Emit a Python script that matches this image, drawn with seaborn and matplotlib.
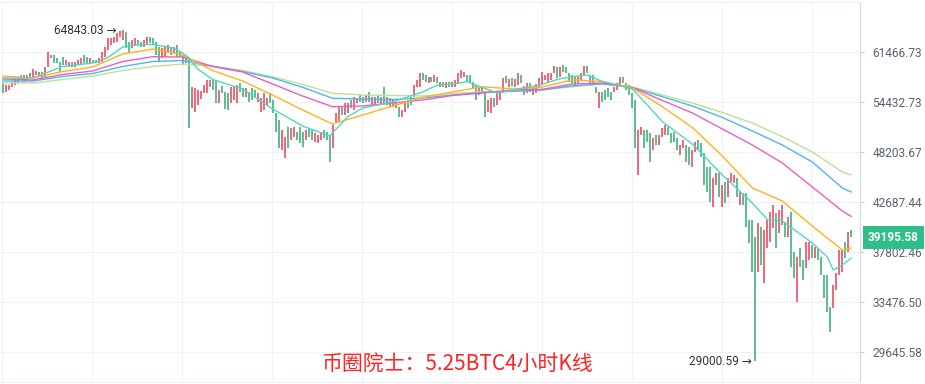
import numpy as np
import pandas as pd
import matplotlib
matplotlib.use("Agg")
import matplotlib.pyplot as plt
import matplotlib.transforms as mtransforms
from matplotlib.ticker import NullLocator
import seaborn as sns

# ---------------- data (4h candles) ----------------
opens = [
    57047, 55814, 56085, 56496, 56770, 57886, 58167, 57185, 58167, 57745,
    57886, 58167, 57886, 58593, 57886, 59309, 60621, 61065, 60621, 60034,
    60769, 59598, 59309, 60034, 59309, 59598, 59598, 61065, 60769, 59888,
    60326, 60326, 59888, 60034, 60769, 61811, 62567, 62873, 63025, 63797,
    63332, 64576, 63025, 62113, 62567, 63332, 63025, 62264, 62567, 63797,
    63643, 63025, 62264, 60621, 60769, 61363, 62264, 61363, 62567, 61512,
    61065, 59888, 60621, 53685, 53165, 54077, 54871, 55678, 55678, 56496,
    57605, 57464, 54341, 56633, 55814, 55678, 54341, 54738, 54341, 57047,
    56359, 55139, 55814, 56359, 56085, 54473, 53165, 53424, 54077, 55678,
    54738, 53036, 52141, 48474, 47541, 51261, 49667, 50031, 50643, 51261,
    50643, 49667, 51137, 50889, 49427, 49307, 49667, 50889, 50643, 50274,
    48711, 51889, 51889, 53815, 52778, 53036, 54738, 53424, 54341, 55407,
    55139, 54473, 55814, 54077, 54077, 55407, 54077, 56496, 54077, 55005,
    53815, 53685, 53815, 52523, 53165, 54738, 55139, 55139, 56496, 56496,
    58451, 58167, 57047, 57886, 57185, 57886, 56496, 57185, 56359, 57185,
    56496, 56496, 57047, 57745, 57886, 58167, 58167, 57185, 56770, 55407,
    55678, 55814, 53165, 53036, 55005, 54077, 54738, 55678, 58026, 56496,
    57745, 56496, 56770, 58167, 56633, 55678, 57047, 55407, 55678, 56359,
    56770, 57464, 57185, 57464, 58451, 59309, 57886, 59598, 59309, 58451,
    58167, 57886, 57047, 57464, 58167, 59454, 58167, 58167, 56496, 53685,
    55814, 56085, 56359, 55814, 55814, 56085, 56770, 57886, 57047, 56770,
    55678, 54738, 45616, 50274, 50889, 50889, 50520, 48474, 50274, 49067,
    50031, 50274, 51261, 50520, 50643, 49910, 47889, 48711, 49067, 48829,
    46513, 48240, 49667, 49307, 48123, 46513, 46513, 42204, 44521, 45839,
    42204, 44847, 43242, 44847, 44738, 45284, 42409, 43664, 43664, 40890,
    40890, 39235, 36036, 40200, 35085, 38200, 38762, 40103, 41592, 39619,
    40396, 40692, 39235, 41693, 37830, 33502, 38200, 37102, 36387, 37102,
    38479, 37283, 38200, 37374, 35773, 35773, 33096, 33015, 34492, 35773,
    36036, 38762, 37830, 39908,
]
closes = [
    55678, 56770, 56770, 57185, 57464, 57047, 57464, 58167, 57464, 58451,
    59022, 58735, 58593, 57745, 59309, 61512, 61065, 59888, 59888, 58593,
    59598, 60326, 60034, 59309, 60034, 60326, 60621, 59888, 59743, 60621,
    59888, 59888, 60621, 61512, 62264, 63643, 63643, 63797, 64419, 64733,
    64843.03, 62113, 61363, 63332, 63643, 62567, 62264, 63332, 63797, 62873,
    62567, 61065, 60034, 62113, 62264, 62567, 61065, 62264, 60769, 60769,
    59598, 61065, 51137, 56496, 56359, 56085, 55949, 56770, 57464, 57464,
    56085, 54341, 56085, 55678, 53555, 53424, 56496, 56496, 56770, 55814,
    55139, 56359, 54473, 54738, 55139, 55678, 55005, 55678, 55005, 54341,
    53036, 50643, 48711, 50889, 50031, 48711, 51137, 51261, 49667, 49307,
    48829, 50889, 50031, 49667, 50520, 50274, 50643, 49910, 49667, 47081,
    51511, 53036, 53815, 52778, 54341, 54341, 53685, 55139, 55005, 54473,
    54341, 55407, 54473, 55139, 55139, 54341, 55139, 54341, 55139, 53815,
    54738, 54473, 52523, 53424, 54341, 53685, 54077, 56770, 57464, 58451,
    57464, 57185, 57886, 57185, 58167, 57047, 57185, 56496, 57185, 56496,
    57185, 57464, 58451, 58878, 58593, 57185, 57185, 56359, 54738, 56359,
    56496, 52523, 54738, 55005, 53815, 55678, 55814, 57745, 57047, 57605,
    56633, 57605, 58451, 57047, 55407, 57047, 55814, 56496, 56908, 57745,
    58593, 58167, 58451, 58451, 59454, 57745, 59309, 58593, 58451, 57185,
    57047, 56496, 57886, 58451, 59454, 58451, 56770, 57047, 55678, 55814,
    54473, 54738, 55139, 54738, 56496, 57047, 57886, 57047, 56085, 55407,
    53685, 48711, 50889, 51261, 48711, 49427, 47081, 49910, 49067, 50274,
    51137, 51511, 50274, 49307, 49427, 48474, 49067, 49667, 47081, 46739,
    48474, 49427, 48474, 47657, 44521, 43769, 42719, 45284, 45839, 43242,
    44521, 42616, 45284, 45839, 45616, 43242, 43769, 42409, 40200, 38668,
    36036, 29000.59, 40594, 36653, 39908, 40890, 41693, 42409, 38200, 41896,
    42409, 39235, 41189, 36475, 35513, 37374, 36475, 35341, 38762, 38762,
    37283, 38293, 37102, 35773, 33827, 32697, 31145, 34914, 35949, 38014,
    38014, 37283, 39715, 39195.58,
]

# moving-average lines, sampled along the candle index
ma_idx = [0, 10, 20, 30, 40, 50, 60, 70, 80, 90, 100, 110, 120, 130, 140,
          150, 160, 170, 180, 190, 200, 210, 220, 230, 240, 250, 260, 270, 280, 283]
teal_idx = [0, 10, 20, 30, 35, 40, 45, 50, 57, 60, 62, 65, 70, 80, 90, 100, 109,
            115, 120, 130, 140, 145, 150, 155, 160, 165, 170, 180, 185, 190, 195,
            200, 205, 210, 215, 220, 230, 240, 250, 255, 260, 270, 275, 277, 280, 283]
ma_teal = [57745, 57745, 59382, 59888, 60666, 62264, 62567, 62644, 62113, 61363,
           60695, 59022, 57535, 56222, 53555, 51386, 50153, 52523, 53685, 54473,
           55814, 56770, 56908, 57227, 56428, 55678, 56085, 56839, 57563, 57928,
           58167, 57255, 56770, 56222, 54077, 51927, 49187, 45616, 42616, 40940,
           40791, 38668, 37374, 36211, 36653, 37283]
ma_orange = [58026, 57745, 58664, 59309, 61214, 61962, 61065, 58807, 57325, 55407,
             53424, 51637, 52778, 53946, 55072, 55814, 56537, 56222, 56496, 57507,
             57255, 56359, 53854, 51199, 47773, 44198, 42823, 40298, 38014, 38200]
ma_pink = [57605, 57464, 58238, 58735, 60107, 60813, 60769, 59382, 58593, 56908,
           55273, 53854, 53946, 54341, 54738, 55340, 55678, 56085, 56181, 56908,
           57047, 56428, 54672, 53036, 51013, 49067, 46966, 44306, 41795, 41240]
ma_blue = [57325, 57325, 57956, 58380, 59382, 60107, 60253, 59411, 58664, 57745,
           56455, 54965, 54871, 54805, 55005, 55407, 55746, 55908, 56085, 56660,
           56908, 56428, 55179, 53946, 52459, 50766, 49067, 47081, 44198, 43769]
ma_lgreen = [57047, 57047, 57535, 58026, 58807, 59382, 59743, 59454, 58807, 57928,
             56839, 55637, 55407, 55340, 55273, 55610, 55855, 55908, 56126, 56523,
             56978, 56496, 55407, 54341, 53100, 51763, 50068, 48240, 45950, 45616]

ytick_values = [29645.58, 33476.50, 37802.46, 42687.44, 48203.67, 54432.73, 61466.73]
high_value, high_index = 64843.03, 40
low_value, low_index = 29000.59, 251
last_price = 39195.58
title_text = "币圈院士：5.25BTC4小时K线"

# ---------------- styling ----------------
UP = "#e8465c"
DOWN = "#3aae78"
C_TEAL = "#4fd8bf"
C_ORANGE = "#ffb21e"
C_PINK = "#f05cc4"
C_BLUE = "#4db6f0"
C_LGREEN = "#b9e294"
GRID = "#eff2f6"

sns.set_theme(style="white")
plt.rcParams['font.family'] = ['Roboto', 'DejaVu Sans']

W, H = 925, 384
fig = plt.figure(figsize=(W / 100, H / 100), dpi=100)
fig.patch.set_facecolor("white")
ax = fig.add_axes([0, 2 / H, 860 / W, 380 / H])
ax.set_facecolor("white")

df = pd.DataFrame({"idx": np.arange(len(opens)), "open": opens, "close": closes})
df["lo"] = df[["open", "close"]].min(axis=1)
df["hi"] = df[["open", "close"]].max(axis=1)
df["col"] = np.where(df["close"] >= df["open"], UP, DOWN)

ax.vlines(df["idx"], df["lo"], df["hi"], colors=df["col"], linewidth=1.15, zorder=3)

lines = [
    (ma_idx, ma_lgreen, C_LGREEN),
    (ma_idx, ma_blue, C_BLUE),
    (ma_idx, ma_pink, C_PINK),
    (ma_idx, ma_orange, C_ORANGE),
    (teal_idx, ma_teal, C_TEAL),
]
for xs, ys, col in lines:
    sns.lineplot(x=xs, y=ys, ax=ax, color=col, linewidth=1.0, legend=False, zorder=4)

ax.set_yscale("log")
ax.set_ylim(27581, 69461)
ax.set_xlim(-0.9, 285.9)
ax.yaxis.set_minor_locator(NullLocator())
ax.set_yticks(ytick_values)
ax.set_yticklabels([f"{v:.2f}" for v in ytick_values])
ax.yaxis.tick_right()
ax.tick_params(axis="y", which="major", length=3, width=0.8, color="#c9ced6",
               pad=6, labelsize=8.6, labelcolor="#5a6272", right=True, left=False)
ax.set_xticks([i - 0.2 for i in range(0, 271, 30)])
ax.tick_params(axis="x", length=0, labelbottom=False)
ax.grid(True, color=GRID, linewidth=0.8, zorder=0)
ax.set_axisbelow(True)
for side in ["left"]:
    ax.spines[side].set_visible(False)
for side in ["top", "bottom"]:
    ax.spines[side].set_color("#eceff3")
    ax.spines[side].set_linewidth(0.8)
ax.spines["right"].set_color("#d6dae1")
ax.spines["right"].set_linewidth(0.8)
ax.set_xlabel("")
ax.set_ylabel("")

# high / low annotations
ax.text(high_index - 2.0, high_value, f"{high_value:.2f} \u2192", ha="right", va="center",
        fontsize=8.6, color="#333333", zorder=5)
ax.text(low_index - 1.2, low_value, f"{low_value:.2f} \u2192", ha="right", va="center",
        fontsize=8.6, color="#333333", zorder=5)

# last price label on the axis
trans = mtransforms.blended_transform_factory(ax.transAxes, ax.transData)
ax.text(1.0 + 8 / 860, last_price, f"{last_price:.2f}", transform=trans, ha="left",
        va="center", fontsize=8.6, fontweight="bold", color="white", zorder=6,
        clip_on=False,
        bbox=dict(boxstyle="square,pad=0.42", fc="#2fbd88", ec="none"))

fig.text(457 / W, 1 - 364 / H, title_text, ha="center", va="center", fontsize=15,
         color="#ff2222", family=["Noto Sans CJK SC", "DejaVu Sans"])

assert len(opens) == len(closes) == 284
fig.savefig("out.png", dpi=100, facecolor="white")
